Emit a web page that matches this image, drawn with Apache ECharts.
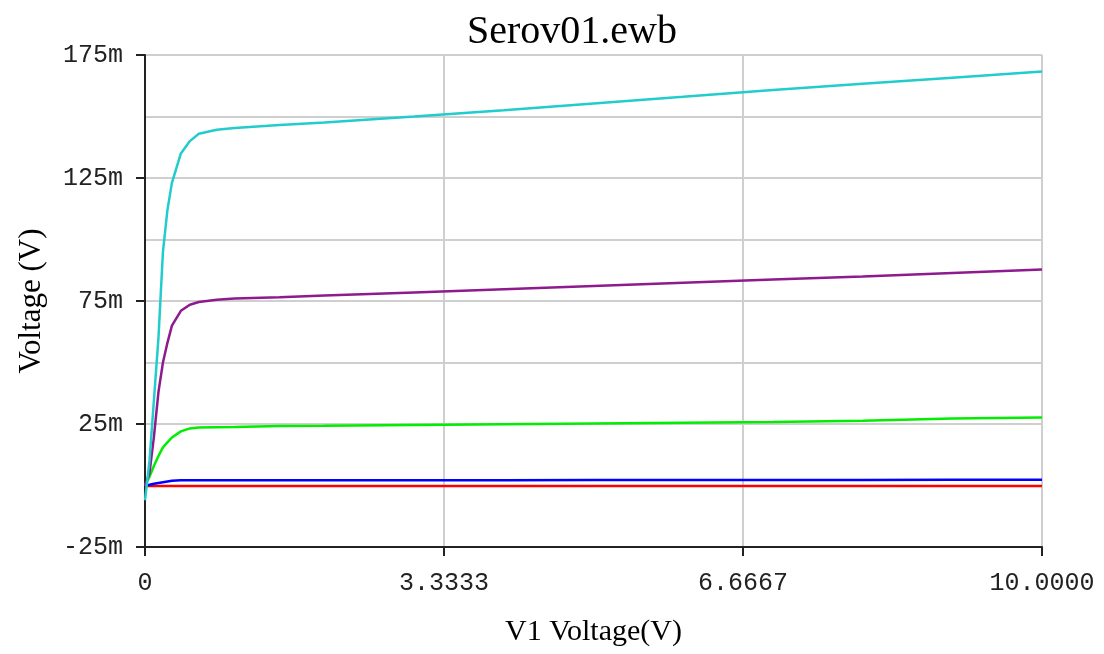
<!DOCTYPE html>
<html>
<head>
<meta charset="utf-8">
<script src="https://cdn.jsdelivr.net/npm/echarts@6/dist/echarts.min.js"></script>
<style>html,body{margin:0;padding:0;background:#fff}#c{width:1104px;height:654px}</style>
</head>
<body>
<div id="c"></div>
<script>
// V1 sweep voltage (V)
var xs = [0, 0.05, 0.1, 0.15, 0.2, 0.25, 0.3, 0.4, 0.5, 0.6, 0.8, 1.0, 1.5, 2, 3, 4, 5, 6, 7, 8, 9, 10];
// node voltages (mV)
var cyanV   = [-6, 10, 35, 60, 95, 112, 123, 135, 140, 143, 144.6, 145.3, 146.5, 147.6, 150, 152.5, 155.3, 158, 160.8, 163.3, 165.8, 168.3];
var purpleV = [0, 5, 20, 38, 50, 58, 65, 71, 73.5, 74.6, 75.5, 76, 76.5, 77.2, 78.5, 79.8, 81.1, 82.4, 83.7, 85, 86.4, 87.8];
var greenV  = [0, 3.5, 8, 12, 15.5, 17.5, 19.5, 22, 23.2, 23.6, 23.7, 23.8, 24.2, 24.3, 24.6, 24.9, 25.2, 25.5, 25.8, 26.3, 27.2, 27.6];
var blueV   = [0, 0.3, 0.7, 1.0, 1.3, 1.6, 1.9, 2.1, 2.1, 2.1, 2.1, 2.1, 2.1, 2.1, 2.1, 2.15, 2.2, 2.2, 2.25, 2.25, 2.3, 2.3];
var redV    = [-0.2, -0.2, -0.2, -0.2, -0.2, -0.2, -0.2, -0.2, -0.2, -0.2, -0.2, -0.2, -0.2, -0.2, -0.2, -0.2, -0.2, -0.2, -0.2, -0.2, -0.2, -0.2];
var xTickLabels = ['0', '3.3333', '6.6667', '10.0000'];

function pairs(ys){ return xs.map(function(x,i){ return [x, ys[i]]; }); }
function mk(name, ys, color){
  return {name:name, type:'line', data:pairs(ys), showSymbol:false, symbol:'none',
    lineStyle:{color:color, width:2.5}, itemStyle:{color:color}, animation:false, z:3};
}

var chart = echarts.init(document.getElementById('c'));
chart.setOption({
  animation:false,
  title:{text:'Serov01.ewb', left:462, top:7,
    textStyle:{fontFamily:'Liberation Serif', fontSize:40, fontWeight:'normal', color:'#000'}},
  grid:{left:145, right:62, top:55, bottom:107},
  xAxis:{type:'value', min:0, max:10, interval:10/3,
    name:'V1 Voltage(V)', nameLocation:'middle', nameGap:70,
    nameTextStyle:{fontFamily:'Liberation Serif', fontSize:30, color:'#000'},
    axisLine:{show:true, onZero:false, lineStyle:{color:'#222', width:2}},
    axisTick:{show:true, length:9, lineStyle:{color:'#222', width:2}},
    axisLabel:{fontFamily:'Liberation Mono', fontSize:25, color:'#222', margin:24,
      formatter:function(v){ var i=Math.round(v/(10/3)); return xTickLabels[i]; }},
    splitLine:{show:true, lineStyle:{color:'#cfcfcf', width:2}}},
  yAxis:{type:'value', min:-25, max:175, interval:50,
    name:'Voltage (V)', nameLocation:'middle', nameGap:98,
    nameTextStyle:{fontFamily:'Liberation Serif', fontSize:31, color:'#000'},
    axisLine:{show:true, lineStyle:{color:'#222', width:2}},
    axisTick:{show:true, length:9, lineStyle:{color:'#222', width:2}},
    minorTick:{show:false, splitNumber:2},
    axisLabel:{fontFamily:'Liberation Mono', fontSize:25, color:'#222', margin:22,
      formatter:function(v){ return Math.round(v)+'m'; }},
    splitLine:{show:true, lineStyle:{color:'#cfcfcf', width:2}},
    minorSplitLine:{show:true, lineStyle:{color:'#cfcfcf', width:2}}},
  series:[
    mk('red', redV, '#ff0000'),
    mk('blue', blueV, '#0000ff'),
    mk('green', greenV, '#00ee00'),
    mk('purple', purpleV, '#8e1a8e'),
    mk('cyan', cyanV, '#22cccc')
  ]
});
</script>
</body>
</html>
